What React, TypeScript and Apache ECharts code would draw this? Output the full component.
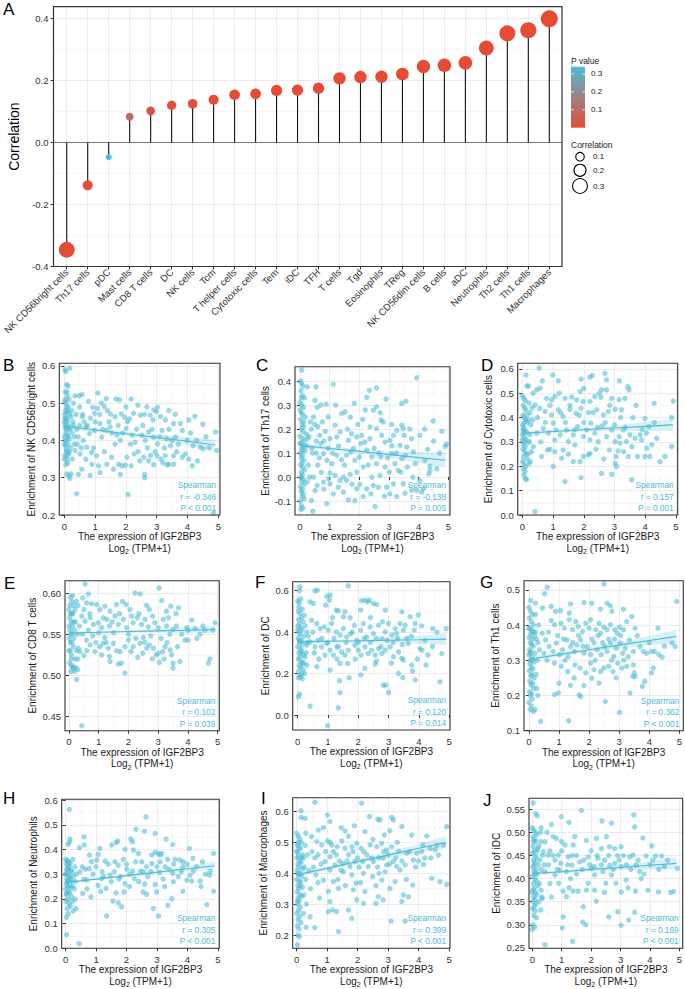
import React, { useEffect, useRef } from 'react';
import * as echarts from 'echarts';

// ---------- Panel A data ----------
const cells = ['NK CD56bright cells', 'Th17 cells', 'pDC', 'Mast cells', 'CD8 T cells', 'DC', 'NK cells', 'Tcm', 'T helper cells', 'Cytotoxic cells', 'Tem', 'iDC', 'TFH', 'T cells', 'Tgd', 'Eosinophils', 'TReg', 'NK CD56dim cells', 'B cells', 'aDC', 'Neutrophils', 'Th2 cells', 'Th1 cells', 'Macrophages'];
const correlation = [-0.346, -0.138, -0.047, 0.083, 0.102, 0.12, 0.125, 0.138, 0.154, 0.157, 0.168, 0.169, 0.175, 0.207, 0.211, 0.212, 0.221, 0.245, 0.249, 0.257, 0.305, 0.352, 0.362, 0.399];
const pValue = [0.0005, 0.005, 0.34, 0.09, 0.039, 0.014, 0.011, 0.005, 0.002, 0.001, 0.0007, 0.0006, 0.0004, 0.0001, 0.0001, 0.0001, 0.0001, 0.0001, 0.0001, 0.0001, 0.0001, 0.0001, 0.0001, 0.0001];
const corrTicks = [-0.4, -0.2, 0, 0.2, 0.4];
const pLegendTicks = [0.1, 0.2, 0.3];
const sizeLegendTicks = [0.1, 0.2, 0.3];

// ---------- Scatter panels ----------
const exprTicks = [0, 1, 2, 3, 4, 5];
const fitX = [0, 1, 2, 3, 4, 4.9];

const ptsB = [[0.02,0.59],[0.05,0.585],[0.18,0.594],[0.08,0.55],[0.12,0.545],[0.03,0.53],[0.1,0.52],[0.15,0.51],[0.01,0.505],[0.06,0.5],[0.13,0.49],[0.04,0.48],[0.09,0.475],[0.17,0.47],[0.02,0.46],[0.11,0.455],[0.07,0.45],[0.14,0.44],[0.03,0.435],[0.19,0.43],[0.05,0.42],[0.1,0.415],[0,0.41],[0.16,0.405],[0.08,0.4],[0.12,0.39],[0.04,0.385],[0.2,0.38],[0.06,0.375],[0.14,0.365],[0.02,0.36],[0.09,0.35],[0.11,0.34],[0.05,0.335],[0.08,0.31],[0.15,0.305],[0.18,0.298],[0.22,0.31],[0.25,0.42],[0.28,0.45],[0.3,0.5],[0.26,0.35],[0.32,0.39],[0.24,0.48],[0.35,0.52],[0.01,0.47],[0.03,0.44],[0.07,0.49],[0.13,0.43],[0.16,0.37],[0,0.39],[0.1,0.36],[0.04,0.51],[0.09,0.53],[0,0.45],[0.06,0.43],[0.12,0.41],[0.02,0.4],[0.07,0.37],[0,0.35],[0.05,0.46],[0.11,0.48],
[0.48,0.52],[0.58,0.523],[1.09,0.527],[1.36,0.512],[1.68,0.511],[1.79,0.509],[2.17,0.511],[2.39,0.495],[2.68,0.49],[3.03,0.489],[2.91,0.482],[3.39,0.48],[2.99,0.477],[0.78,0.505],[0.92,0.489],[0.98,0.473],[1.08,0.486],[1.3,0.491],[1.4,0.48],[1.5,0.471],[1.65,0.464],[1.85,0.471],[1.96,0.462],[2.12,0.458],[2.25,0.473],[2.47,0.468],[2.79,0.468],[2.88,0.455],[3.12,0.464],[3.28,0.455],[3.55,0.445],[3.77,0.445],[4.04,0.455],[4.24,0.464],[4.5,0.443],[4.91,0.423],
[0.22,0.464],[0.58,0.464],[0.7,0.436],[0.82,0.418],[0.98,0.427],[1.16,0.445],[1.22,0.409],[1.38,0.427],[1.49,0.436],[1.71,0.414],[1.82,0.4],[2.01,0.432],[2.2,0.414],[2.3,0.395],[2.52,0.414],[2.63,0.4],[2.74,0.423],[2.9,0.409],[3.03,0.391],[3.17,0.427],[3.32,0.405],[3.45,0.386],[3.61,0.409],[3.83,0.427],[3.99,0.4],[4.18,0.386],[4.42,0.382],[4.7,0.38],[4.95,0.373],
[0.35,0.373],[0.51,0.364],[0.73,0.382],[0.89,0.368],[1.05,0.359],[1.11,0.332],[1.16,0.314],[1.38,0.336],[1.54,0.355],[1.6,0.323],[1.76,0.336],[1.82,0.309],[1.87,0.332],[1.98,0.334],[2.03,0.355],[2.17,0.332],[2.27,0.364],[2.45,0.345],[2.58,0.355],[2.61,0.309],[2.61,0.3],[2.74,0.345],[2.9,0.335],[3.01,0.359],[3.14,0.35],[3.28,0.359],[3.34,0.335],[3.39,0.336],[3.55,0.359],[3.55,0.336],[3.83,0.355],[3.93,0.364],[4.04,0.35],[4.15,0.332],[4.32,0.345],[4.51,0.377],[0.84,0.306],[0.57,0.323],[0.46,0.309],[0.9,0.336],
[0.4,0.257],[2.07,0.255],[4.84,0.205],[0.3,0.44],[0.4,0.43],[0.45,0.41],[0.5,0.44],[0.62,0.4],[0.38,0.47],[0.55,0.38],[0.65,0.45],[0.42,0.39],[0.33,0.41],
[0.6,0.47],[0.75,0.44],[0.85,0.46],[1,0.45],[1.15,0.47],[1.25,0.43],[1.45,0.45],[1.55,0.42],[1.75,0.44],[1.9,0.42],[2.05,0.45],[2.15,0.39],[2.35,0.43],[2.55,0.44],[2.7,0.38],[2.85,0.43],[2.95,0.37],[3.1,0.41],[3.25,0.38],[3.4,0.43],[3.5,0.4],[3.7,0.39],[0.7,0.35],[0.95,0.38],[1.3,0.37],[1.65,0.39],[2.4,0.37],[2.8,0.36],[3.2,0.34],[3.65,0.37],[4.1,0.42],[4.3,0.4],[4.6,0.41],[1.2,0.5],[2,0.49],[2.6,0.47],[3.6,0.47],[0.5,0.49]];
const fitB = [0.438, 0.428, 0.418, 0.408, 0.398, 0.388];
const lowB = [0.431, 0.423, 0.413, 0.401, 0.387, 0.374];
const upB = [0.445, 0.433, 0.423, 0.415, 0.409, 0.402];
const yTicksB = [0.2, 0.3, 0.4, 0.5, 0.6];

const ptsC = [[0.02,0.4],[0.05,0.39],[0.1,0.38],[0.03,0.36],[0.08,0.34],[0.15,0.33],[0.01,0.31],[0.06,0.3],[0.12,0.29],[0.04,0.27],[0.09,0.26],[0.18,0.25],[0.02,0.24],[0.07,0.22],[0.13,0.21],[0.05,0.2],[0.1,0.19],[0.2,0.18],[0,0.17],[0.08,0.16],[0.14,0.15],[0.03,0.14],[0.11,0.13],[0.06,0.12],[0.17,0.11],[0.01,0.1],[0.09,0.09],[0.04,0.08],[0.13,0.07],[0.07,0.06],[0.02,0.05],[0.1,0.04],[0.16,0.03],[0.05,0.02],[0.08,0.01],[0.03,0],[0.12,-0.01],[0.06,-0.02],[0.15,-0.03],[0.01,-0.04],[0.09,-0.05],[0.04,-0.06],[0.11,-0.07],[0.07,-0.08],[0.14,-0.09],[0.02,-0.1],[0.05,-0.12],[0.1,-0.13],[0.03,-0.135],[0.22,0.13],[0.25,0.16],[0.3,0.17],[0.35,0.23],[0.28,0.05],[0.32,0],[0.24,-0.02],[0.38,0.2],[0.4,0.12],[0.45,0.25],[0.42,0.1],[0.5,0.22],[0.06,0.446],[0.25,0.376],[0.54,0.376],[0.58,0.29],[0.67,0.174],[0,0.28],[0.04,0.33],[0.12,0.23],[0,0.14],[0.08,0.11],[0.05,0],
[3.93,0.414],[1.12,0.387],[2.34,0.362],[2.58,0.372],[2.9,0.325],[2.25,0.332],[3.43,0.307],[3.57,0.316],[1.83,0.307],[1.52,0.272],[1.4,0.265],[0.88,0.304],[2.47,0.279],[2.7,0.268],[2.58,0.293],[2.11,0.24],[2.36,0.209],[2.73,0.237],[3.09,0.219],[3.43,0.216],[3.48,0.202],[4.49,0.234],[4.78,0.191],[4.04,0.174],[3.76,0.16],[3.51,0.174],[3.15,0.174],[3.37,0.132],[4.94,0.137],[4.89,0.128],[4.3,0.116],[4.38,0.028],[4.34,0.014],[4.04,-0.014],[3.93,-0.056],[4.1,-0.063],[4.16,-0.049],[3.76,-0.056],[3.54,-0.067],[3.48,-0.028],[3.15,-0.028],[2.92,-0.042],[3.03,-0.07],[3.26,-0.081],[2.64,-0.042],[2.47,-0.035],[2.39,-0.07],[2.13,-0.081],[2.25,-0.049],[2.02,-0.031],[1.91,-0.049],[1.85,-0.098],[1.63,-0.095],[2.53,-0.123],[1.46,-0.063],[1.29,-0.042],[1.12,-0.07],[0.9,-0.111],[1.01,-0.028],[0.79,-0.021],[0.58,-0.035],[0.51,-0.056],[0.39,-0.098],[0.43,-0.142],
[1.01,0.16],[1.24,0.167],[1.35,0.188],[1.18,0.216],[1.63,0.153],[1.74,0.181],[1.91,0.167],[2.08,0.174],[2.19,0.146],[2.36,0.16],[2.58,0.202],[2.75,0.174],[2.87,0.146],[3.03,0.153],[3.26,0.195],[3.6,0.125],[3.82,0.105],[4.21,0.07],[3.88,0.056],[4.38,0.045],[4.61,0.035],[0.79,0.098],[0.9,0.07],[1.07,0.056],[1.24,0.091],[1.4,0.072],[1.57,0.091],[1.71,0.105],[1.85,0.07],[2,0.084],[2.13,0.042],[2.25,0.112],[2.42,0.084],[2.58,0.056],[2.72,0.084],[2.87,0.042],[3.01,0.021],[3.09,0.098],[3.2,0.056],[3.31,0.028],[3.43,0.077],[3.62,0.042],[1.01,0.017],[1.18,0.007],[1.46,0],[1.69,0.011],[1.91,0.021],[1.57,-0.014],[1.35,-0.014],[2.7,0.007],[2.42,0],[0.96,-0.007],[0.6,0.21],[0.75,0.23],[0.85,0.19],[0.7,0.14],[0.95,0.25],[0.55,0.15],[0.65,0.08],[0.72,0.02],
[0.55,0.1],[0.6,0.05],[0.8,0.15],[0.95,0.12],[1.1,0.1],[1.3,0.13],[1.5,0.05],[1.6,0.2],[1.8,0.12],[1.95,0.22],[2.05,0.14],[2.3,0.05],[2.5,0.12],[2.65,0.1],[2.8,0.23],[2.95,0.08],[3.1,0.13],[3.25,0.1],[3.4,0.02],[3.55,0.09],[3.7,0.2],[1.2,0.3],[1.7,0.25],[2.2,0.28],[0.7,0.3],[0.5,0.32],[0.45,0],[0.8,-0.05],[1.75,-0.03],[2.85,-0.08],[3.8,0],[4.5,0.15],[4.2,0.2],[4.7,0.1]];
const fitC = [0.132, 0.119, 0.107, 0.094, 0.081, 0.07];
const lowC = [0.121, 0.111, 0.098, 0.081, 0.059, 0.04];
const upC = [0.143, 0.127, 0.116, 0.107, 0.103, 0.1];
const yTicksC = [-0.1, 0, 0.1, 0.2, 0.3, 0.4];

const ptsD = [[0,0.49],[0.05,0.48],[0.1,0.47],[0.15,0.53],[0.2,0.53],[0.03,0.45],[0.08,0.44],[0.12,0.43],[0.02,0.41],[0.06,0.4],[0.11,0.39],[0.17,0.38],[0.01,0.37],[0.04,0.36],[0.09,0.35],[0.14,0.34],[0,0.33],[0.07,0.32],[0.12,0.31],[0.03,0.3],[0.18,0.3],[0.05,0.29],[0.1,0.28],[0.02,0.27],[0.08,0.26],[0.13,0.25],[0.04,0.24],[0.16,0.23],[0.01,0.22],[0.06,0.21],[0.11,0.2],[0.03,0.19],[0.09,0.18],[0.05,0.165],[0.1,0.15],[0.14,0.145],[0.22,0.46],[0.25,0.42],[0.28,0.37],[0.23,0.3],[0.3,0.26],[0.26,0.22],[0.2,0.39],[0.24,0.33],[0.19,0.25],[0.32,0.44],[0.35,0.5],[0.22,0.21],[0.12,0.575],[0.02,0.35],[0.07,0.38],[0,0.31],[0.15,0.41],[0.05,0.34],
[0.41,0.014],[0.55,0.603],[0.99,0.575],[0.65,0.551],[1.17,0.551],[2.2,0.566],[2.28,0.573],[2.69,0.582],[2.74,0.555],[3.16,0.551],[3.43,0.527],[3.47,0.514],[1.91,0.558],[1.88,0.507],[0.58,0.521],[0.47,0.514],[0.79,0.479],[0.95,0.473],[1.06,0.486],[1.39,0.479],[1.61,0.484],[1.77,0.473],[1.98,0.466],[2.2,0.466],[2.36,0.486],[2.56,0.484],[2.58,0.514],[2.74,0.514],[2.91,0.479],[3.15,0.473],[3.34,0.479],[4.91,0.468],[4.29,0.459],[3.99,0.397],[4.86,0.4],[3.23,0.432],[3.02,0.434],[2.8,0.425],[2.64,0.411],[2.42,0.432],[2.15,0.421],[1.91,0.438],[1.74,0.418],[1.55,0.434],[1.33,0.404],[1.17,0.432],[0.95,0.411],[0.74,0.425],[0.57,0.438],[0.41,0.452],[0.34,0.39],[0.36,0.281],[0.47,0.336],[0.68,0.356],[0.85,0.336],[1.01,0.377],[1.06,0.308],[1.23,0.329],[1.44,0.349],[1.5,0.301],[1.66,0.329],[1.71,0.288],[1.8,0.363],[1.99,0.322],[2.1,0.349],[2.2,0.308],[2.23,0.377],[2.36,0.336],[2.47,0.301],[2.6,0.366],[2.74,0.322],[2.83,0.267],[2.91,0.349],[3.02,0.301],[3.15,0.322],[3.18,0.295],[3.29,0.349],[3.39,0.301],[3.5,0.329],[3.56,0.281],[3.67,0.315],[3.83,0.329],[3.88,0.308],[4.04,0.336],[4.12,0.363],[4.21,0.288],[4.37,0.315],[4.48,0.219],[3.99,0.24],[4.05,0.274],[3.75,0.24],[3.45,0.24],[3.12,0.263],[3.05,0.24],[3.02,0.212],[3.07,0.199],[2.91,0.167],[2.58,0.171],[2.2,0.253],[2.15,0.247],[1.99,0.24],[1.88,0.219],[1.66,0.219],[1.28,0.233],[1.33,0.267],[1.06,0.26],[1.01,0.199],[0.82,0.267],[0.63,0.24],[1.39,0.137],[1.91,0.153],[3.56,0.144],[4.86,0.281],[4.64,0.24],[4.15,0.24],
[0.5,0.4],[0.6,0.3],[0.75,0.38],[0.9,0.45],[1.1,0.35],[1.25,0.42],[1.4,0.38],[1.55,0.45],[1.7,0.35],[1.85,0.41],[2,0.38],[2.3,0.42],[2.45,0.36],[2.7,0.38],[2.85,0.45],[3,0.37],[3.2,0.4],[3.35,0.36],[3.6,0.4],[3.7,0.45],[3.9,0.35],[4.3,0.38],[0.9,0.27],[1.5,0.25],[2.4,0.27],[2.65,0.23],[3.3,0.26],[1.2,0.5],[2,0.52],[2.5,0.5]];
const fitD = [0.336, 0.343, 0.35, 0.357, 0.364, 0.37];
const lowD = [0.328, 0.337, 0.343, 0.347, 0.346, 0.346];
const upD = [0.344, 0.349, 0.357, 0.367, 0.382, 0.394];
const yTicksD = [0, 0.1, 0.2, 0.3, 0.4, 0.5, 0.6];

const ptsE = [[0,0.58],[0.05,0.575],[0.1,0.59],[0.15,0.585],[0.02,0.57],[0.08,0.565],[0.12,0.56],[0.03,0.555],[0.18,0.555],[0.06,0.55],[0.01,0.545],[0.1,0.54],[0.14,0.535],[0.04,0.53],[0.08,0.525],[0.2,0.52],[0.02,0.515],[0.12,0.51],[0.06,0.505],[0.16,0.545],[0,0.56],[0.09,0.575],[0.2,0.58],[0.25,0.59],[0.3,0.585],[0.22,0.565],[0.28,0.55],[0.25,0.53],[0.05,0.595],[0.12,0.597],[0.35,0.56],[0.22,0.51],[0.18,0.505],[0.3,0.52],[0.04,0.54],[0.11,0.55],[0,0.53],[0.07,0.52],[0.15,0.565],[0.03,0.585],[0.09,0.512],[0.13,0.575],
[0.54,0.611],[0.65,0.599],[0.43,0.439],[0.26,0.495],[0.15,0.509],[0.29,0.507],[0.46,0.594],[0.59,0.588],[0.76,0.587],[0.93,0.586],[1.04,0.58],[1.21,0.584],[1.38,0.578],[1.6,0.586],[1.8,0.59],[1.92,0.586],[2.22,0.6],[2.39,0.599],[2.61,0.585],[3.03,0.606],[3.12,0.591],[3.28,0.578],[3.42,0.584],[3.68,0.582],
[0.43,0.572],[0.54,0.566],[0.71,0.57],[0.82,0.562],[0.99,0.564],[1.1,0.558],[1.27,0.568],[1.36,0.56],[1.55,0.572],[1.66,0.562],[1.83,0.568],[1.94,0.558],[2.11,0.572],[2.16,0.564],[2.3,0.57],[2.44,0.562],[2.56,0.568],[2.67,0.559],[2.81,0.572],[2.89,0.564],[3,0.558],[3.17,0.568],[3.28,0.56],[3.39,0.55],[3.5,0.556],[3.61,0.56],[3.79,0.55],[3.96,0.558],[4.13,0.567],[4.24,0.557],[4.41,0.55],[4.57,0.555],[4.91,0.564],[4.85,0.555],[3.9,0.543],[4.01,0.543],
[0.31,0.533],[0.59,0.543],[0.71,0.537],[0.87,0.529],[1.04,0.535],[1.15,0.539],[1.32,0.533],[1.36,0.523],[1.38,0.517],[1.49,0.539],[1.72,0.529],[1.77,0.515],[1.88,0.535],[2,0.543],[2.09,0.529],[2.16,0.535],[2.31,0.522],[2.39,0.539],[2.48,0.527],[2.61,0.533],[2.7,0.537],[2.84,0.533],[2.93,0.525],[3,0.527],[3.04,0.516],[3.15,0.529],[3.23,0.535],[3.4,0.531],[3.45,0.525],[3.5,0.515],[3.5,0.509],[3.73,0.517],[1.88,0.503],[1.66,0.514],[0.5,0.524],[0.37,0.529],[4.69,0.515],[4.74,0.52],
[0.45,0.55],[0.8,0.548],[1.2,0.546],[1.5,0.552],[2,0.55],[2.5,0.546],[2.75,0.548],[3.1,0.545],[0.65,0.555],[1,0.552],
[0.5,0.58],[0.7,0.575],[1.15,0.57],[1.45,0.565],[1.7,0.575],[2.05,0.58],[2.35,0.575],[2.7,0.58],[3.35,0.57],[3.6,0.575],[0.9,0.54],[1.25,0.54],[1.6,0.53],[2.25,0.545],[2.55,0.54],[3.3,0.54],[3.65,0.535],[4,0.555],[4.3,0.545],[0.6,0.53],[1.1,0.525],[2.8,0.52],[3.2,0.52],[4.5,0.56]];
const fitE = [0.5516, 0.5524, 0.5533, 0.5541, 0.5549, 0.5557];
const lowE = [0.5498, 0.551, 0.5517, 0.5518, 0.5514, 0.5512];
const upE = [0.5534, 0.5538, 0.5549, 0.5564, 0.5584, 0.5602];
const yTicksE = [0.45, 0.5, 0.55, 0.6];

const ptsF = [[0,0.55],[0.05,0.54],[0.1,0.56],[0.15,0.51],[0.02,0.5],[0.08,0.49],[0.12,0.47],[0.03,0.46],[0.18,0.45],[0.06,0.44],[0.01,0.43],[0.1,0.42],[0.14,0.41],[0.04,0.4],[0.08,0.39],[0.2,0.38],[0.02,0.37],[0.12,0.36],[0.06,0.35],[0.16,0.34],[0,0.33],[0.09,0.32],[0.13,0.31],[0.04,0.3],[0.19,0.29],[0.07,0.28],[0.02,0.27],[0.11,0.26],[0.15,0.25],[0.05,0.24],[0.09,0.23],[0.18,0.22],[0.03,0.21],[0.13,0.2],[0.07,0.19],[0.1,0.185],[0.02,0.18],[0.15,0.175],[0.22,0.2],[0.25,0.43],[0.28,0.3],[0.3,0.4],[0.24,0.28],[0.32,0.35],[0.35,0.38],[0.22,0.48],[0.06,0.6],[0.2,0.25],[0.02,0.088],[0.06,0.101],[0.08,0.618],[0.05,0.36],[0,0.41],[0.11,0.3],[0.04,0.52],
[0.99,-0.051],[0.41,0.043],[1.34,0.035],[1.4,0.108],[3,0.109],[2.83,0.144],[1.67,0.623],[0.57,0.599],[0.65,0.602],[0.96,0.573],[1.07,0.578],[0.52,0.538],[0.41,0.546],[0.93,0.53],[1.05,0.554],[1.27,0.506],[1.34,0.502],[1.56,0.498],[1.51,0.474],[1.73,0.469],[2.08,0.506],[2.22,0.554],[2.11,0.551],[2.37,0.554],[2.31,0.546],[2.5,0.538],[2.61,0.533],[2.89,0.506],[3.44,0.498],[3.71,0.474],[3.88,0.441],[3.98,0.482],[4.1,0.43],[4.46,0.417],[4.9,0.417],
[0.46,0.457],[0.63,0.441],[0.74,0.417],[0.88,0.425],[1.01,0.409],[1.12,0.441],[1.27,0.401],[1.4,0.385],[1.51,0.417],[1.62,0.377],[1.75,0.393],[1.87,0.433],[1.95,0.361],[2.08,0.409],[2.17,0.441],[2.28,0.377],[2.39,0.425],[2.5,0.393],[2.67,0.433],[2.78,0.369],[2.89,0.401],[3,0.441],[3.11,0.385],[3.22,0.417],[3.27,0.393],[3.38,0.441],[3.49,0.409],[3.55,0.433],[3.6,0.369],[0.3,0.337],[0.41,0.353],[0.57,0.329],[0.68,0.361],[0.79,0.329],[0.9,0.289],[0.96,0.345],[1.07,0.313],[1.18,0.289],[1.29,0.329],[1.45,0.305],[1.56,0.289],[1.67,0.313],[1.89,0.337],[2,0.313],[2.09,0.289],[2.22,0.329],[2.33,0.297],[2.44,0.313],[2.56,0.289],[2.67,0.321],[2.78,0.297],[2.89,0.313],[3.05,0.329],[3.16,0.281],[3.33,0.305],[3.44,0.273],[3.49,0.265],[4.04,0.321],[4.1,0.313],[4.76,0.297],
[0.3,0.241],[0.63,0.233],[1.07,0.217],[1.4,0.249],[1.65,0.249],[2.09,0.193],[2.22,0.225],[2.56,0.246],[2.91,0.144],[3.33,0.201],[3.47,0.18],[3.77,0.241],[3.79,0.212],[3.88,0.169],[4.24,0.241],[4.7,0.16],[1.7,0.18],[1.38,0.165],[3.75,0.38],[4.2,0.36],[4.45,0.33],[3.65,0.345],[4.3,0.29],[3.95,0.27],[4.6,0.4],[3.85,0.41],
[0.5,0.4],[0.55,0.3],[0.8,0.37],[1,0.35],[1.2,0.37],[1.35,0.33],[1.6,0.35],[1.8,0.4],[2,0.35],[2.2,0.37],[2.4,0.35],[2.6,0.37],[2.75,0.33],[2.95,0.36],[3.15,0.35],[3.3,0.37],[3.45,0.34],[0.7,0.27],[1.3,0.27],[1.9,0.27],[2.6,0.26],[3.1,0.25],[1.15,0.47],[2.4,0.47],[2.8,0.45]];
const fitF = [0.353, 0.356, 0.358, 0.361, 0.363, 0.366];
const lowF = [0.343, 0.349, 0.35, 0.349, 0.343, 0.338];
const upF = [0.363, 0.363, 0.366, 0.373, 0.383, 0.394];
const yTicksF = [0, 0.2, 0.4, 0.6];

const ptsG = [[0,0.45],[0.05,0.44],[0.12,0.43],[0.02,0.42],[0.08,0.41],[0.15,0.4],[0.03,0.39],[0.1,0.385],[0.06,0.375],[0.18,0.37],[0.01,0.365],[0.12,0.36],[0.04,0.35],[0.09,0.345],[0.14,0.34],[0.02,0.33],[0.07,0.325],[0.2,0.32],[0,0.315],[0.11,0.31],[0.05,0.3],[0.16,0.295],[0.03,0.29],[0.08,0.28],[0.13,0.275],[0.01,0.27],[0.1,0.26],[0.06,0.255],[0.18,0.25],[0.03,0.24],[0.12,0.235],[0.07,0.23],[0.15,0.22],[0.02,0.21],[0.09,0.205],[0.05,0.2],[0.11,0.19],[0,0.18],[0.08,0.17],[0.04,0.16],[0.14,0.155],[0.2,0.16],[0.22,0.38],[0.25,0.36],[0.3,0.35],[0.28,0.3],[0.24,0.26],[0.32,0.4],[0.35,0.33],[0.26,0.22],[0.3,0.2],[0.22,0.43],[0.22,0.462],[0.06,0.47],[0,0.39],[0.1,0.3],[0.04,0.32],[0.14,0.38],
[0.39,0.126],[1.32,0.128],[3.01,0.152],[0.52,0.489],[0.61,0.507],[2.49,0.517],[4.91,0.467],[0.45,0.448],[0.74,0.453],[0.88,0.439],[1.05,0.441],[1.34,0.434],[1.38,0.46],[1.83,0.464],[2.09,0.462],[2.38,0.445],[2.6,0.462],[2.71,0.455],[2.76,0.439],[3.14,0.445],[3.42,0.424],[0.74,0.413],[0.85,0.401],[1.07,0.405],[1.18,0.391],[1.34,0.415],[1.45,0.387],[1.56,0.41],[1.64,0.396],[1.78,0.382],[1.89,0.405],[2,0.391],[2.05,0.415],[2.22,0.387],[2.33,0.405],[2.38,0.377],[2.49,0.394],[2.6,0.387],[2.71,0.401],[2.85,0.387],[2.93,0.377],[3.01,0.394],[3.14,0.387],[3.25,0.41],[3.53,0.391],[4.29,0.391],[0.44,0.377],[0.55,0.358],[0.67,0.339],[0.8,0.325],[0.91,0.349],[1.02,0.316],[1.12,0.33],[1.26,0.358],[1.38,0.339],[1.51,0.325],[1.59,0.344],[1.72,0.358],[1.83,0.32],[1.94,0.339],[2.05,0.316],[2.16,0.349],[2.27,0.33],[2.4,0.316],[2.52,0.339],[2.6,0.325],[2.71,0.349],[2.82,0.311],[2.9,0.334],[3.03,0.349],[3.12,0.32],[3.2,0.334],[3.34,0.358],[3.47,0.325],[3.69,0.339],[3.8,0.325],[3.91,0.32],[4.07,0.325],[4.18,0.325],[4.32,0.316],[4.43,0.309],[4.76,0.349],[4.86,0.339],[0.85,0.292],[1.07,0.283],[1.29,0.268],[1.53,0.287],[1.7,0.278],[1.89,0.264],[2.05,0.292],[2.16,0.273],[2.38,0.268],[2.49,0.278],[2.65,0.283],[2.79,0.268],[2.95,0.292],[3.09,0.278],[3.25,0.283],[3.47,0.287],[3.5,0.264],[3.45,0.254],[3.53,0.254],[4.07,0.264],[4.13,0.278],[3.85,0.24],[1,0.235],[1.38,0.229],[0.85,0.202],[0.98,0.207],[1.67,0.202],[1.72,0.197],[1.83,0.228],[2.09,0.249],[2.33,0.235],[2.54,0.183],[3.77,0.226],[3.36,0.207],
[0.5,0.32],[0.65,0.38],[0.95,0.37],[1.15,0.36],[1.3,0.31],[1.45,0.35],[1.65,0.37],[1.8,0.34],[2.1,0.36],[2.3,0.37],[2.45,0.35],[2.65,0.36],[2.85,0.36],[3.05,0.37],[3.3,0.31],[3.6,0.37],[0.6,0.3],[1.2,0.3],[2.2,0.3],[2.75,0.3],[3.15,0.3],[4,0.35],[4.5,0.34],[1.5,0.25],[2.9,0.25]];
const fitG = [0.303, 0.316, 0.33, 0.343, 0.356, 0.368];
const lowG = [0.297, 0.311, 0.324, 0.335, 0.343, 0.349];
const upG = [0.309, 0.321, 0.336, 0.351, 0.369, 0.387];
const yTicksG = [0.1, 0.2, 0.3, 0.4, 0.5];

const ptsH = [[0,0.36],[0.05,0.355],[0.1,0.35],[0.15,0.345],[0.02,0.34],[0.08,0.335],[0.12,0.33],[0.03,0.32],[0.18,0.315],[0.06,0.31],[0.01,0.3],[0.1,0.295],[0.14,0.29],[0.04,0.28],[0.08,0.275],[0.2,0.27],[0.02,0.26],[0.12,0.255],[0.06,0.25],[0.16,0.245],[0,0.24],[0.09,0.23],[0.13,0.225],[0.04,0.22],[0.19,0.21],[0.07,0.2],[0.02,0.19],[0.11,0.18],[0.15,0.17],[0.05,0.16],[0.09,0.14],[0.03,0.125],[0.12,0.43],[0.08,0.42],[0.2,0.31],[0.25,0.29],[0.22,0.25],[0.3,0.33],[0.28,0.24],[0.24,0.36],[0.32,0.27],[0.35,0.3],[0.22,0.19],[0.12,0.562],[0.03,0.055],[0.14,0.442],[0,0.3],[0.05,0.27],[0.1,0.32],[0.16,0.28],[0.07,0.35],[0.02,0.22],
[0.44,0.019],[2.64,0.532],[2.31,0.482],[2.59,0.474],[2.94,0.465],[3.3,0.442],[3.52,0.42],[4.07,0.404],[4.86,0.384],[0.45,0.407],[0.6,0.451],[0.61,0.418],[1.13,0.404],[1.51,0.418],[1.66,0.428],[1.71,0.434],[1.95,0.401],[2.14,0.442],[2.2,0.431],[2.23,0.397],[2.39,0.384],[2.83,0.377],[2.94,0.388],[3.05,0.384],[3.1,0.377],[3.16,0.384],[3.76,0.357],[3.87,0.35],[4.18,0.364],[4.75,0.312],[4.86,0.231],[4.64,0.177],[0.78,0.377],[1.02,0.357],[1.07,0.38],[1.3,0.353],[1.62,0.35],[1.73,0.336],[2.01,0.32],[2.2,0.312],[2.45,0.312],[2.66,0.33],[2.83,0.343],[3,0.33],[3.08,0.307],[3.27,0.33],[3.52,0.303],[3.85,0.33],[4.09,0.296],[4.2,0.312],[4.73,0.296],[3.98,0.276],[4.14,0.272],[4.42,0.272],[3.85,0.231],[3.54,0.269],[3.49,0.201],[3.36,0.174],[3.05,0.131],[2.88,0.161],[2.55,0.228],[2.66,0.218],[2.99,0.228],[2.94,0.258],[2.26,0.282],[1.95,0.262],[1.92,0.228],[1.66,0.224],[1.55,0.191],[1.84,0.168],[1.73,0.184],[1.35,0.131],[1.07,0.255],[1.33,0.242],[0.83,0.208],[0.56,0.222],[0.34,0.161],[0.25,0.151],[0.31,0.199],[0.69,0.276],[1.18,0.282],[1.46,0.296],[0.78,0.323],[0.47,0.309],
[0.9,0.3],[1.2,0.31],[1.5,0.27],[1.8,0.29],[2.1,0.3],[2.4,0.27],[2.7,0.29],[3.2,0.28],[3.4,0.32],[3.7,0.29],[0.6,0.28],[0.55,0.33],[2.5,0.35],[1.9,0.36],[3.6,0.36],[4.3,0.33],[4.5,0.35],
[0.65,0.32],[0.85,0.35],[1,0.33],[1.25,0.29],[1.4,0.34],[1.6,0.31],[1.75,0.28],[2,0.34],[2.3,0.35],[2.55,0.31],[2.8,0.31],[3.1,0.35],[3.35,0.36],[3.55,0.34],[3.8,0.31],[4,0.34],[0.7,0.24],[1.15,0.23],[2.1,0.25],[2.6,0.26],[3.25,0.25],[4.6,0.3],[4.45,0.25]];
const fitH = [0.266, 0.28, 0.294, 0.308, 0.322, 0.334];
const lowH = [0.261, 0.276, 0.289, 0.301, 0.311, 0.319];
const upH = [0.271, 0.284, 0.299, 0.315, 0.333, 0.349];
const yTicksH = [0, 0.1, 0.2, 0.3, 0.4, 0.5, 0.6];

const ptsI = [[0,0.53],[0.05,0.52],[0.1,0.51],[0.15,0.5],[0.02,0.49],[0.08,0.485],[0.12,0.48],[0.03,0.47],[0.18,0.46],[0.06,0.455],[0.01,0.45],[0.1,0.44],[0.14,0.435],[0.04,0.43],[0.08,0.42],[0.2,0.415],[0.02,0.41],[0.12,0.4],[0.06,0.395],[0.16,0.39],[0,0.38],[0.09,0.375],[0.13,0.37],[0.04,0.36],[0.19,0.355],[0.07,0.35],[0.02,0.34],[0.11,0.33],[0.15,0.325],[0.05,0.32],[0.09,0.31],[0.03,0.3],[0.12,0.29],[0.07,0.28],[0.01,0.27],[0.1,0.26],[0.05,0.25],[0.14,0.24],[0.02,0.23],[0.08,0.22],[0.04,0.2],[0.22,0.45],[0.25,0.42],[0.3,0.38],[0.28,0.49],[0.24,0.33],[0.32,0.3],[0.35,0.46],[0.22,0.27],[0.3,0.53],[0.4,0.41],[0.03,0.168],[0.09,0.195],[0.14,0.603],[0.14,0.581],[0.27,0.578],[0,0.47],[0.06,0.5],[0.11,0.36],[0.04,0.4],[0.16,0.45],[0.02,0.31],
[1.37,0.211],[0.31,0.225],[0.44,0.259],[0.6,0.224],[1.81,0.254],[1.31,0.276],[1.7,0.281],[1.04,0.276],[1.18,0.281],[1.09,0.308],[1.97,0.314],[2.19,0.303],[2.6,0.303],[2.68,0.324],[2.84,0.314],[3.1,0.245],[3.56,0.245],[3.45,0.308],[3.5,0.33],[3.81,0.362],[4.43,0.384],[4.7,0.373],[4.92,0.364],[0.6,0.63],[1.01,0.589],[1.09,0.568],[1.46,0.548],[1.89,0.554],[2.13,0.627],[2.39,0.584],[2.66,0.575],[2.74,0.573],[3.12,0.581],[3.17,0.573],[3.45,0.551],[3.77,0.524],[4.27,0.521],[4.92,0.551],[3.06,0.538],[2.87,0.524],[2.24,0.535],[1.59,0.537],[0.88,0.548],[0.71,0.54],[0.49,0.519],[0.66,0.503],[0.82,0.492],[1.01,0.505],[1.15,0.492],[1.33,0.486],[1.48,0.505],[1.59,0.481],[1.81,0.486],[1.97,0.497],[2.11,0.481],[2.41,0.492],[2.63,0.486],[2.79,0.497],[2.95,0.476],[3.12,0.486],[3.34,0.472],[3.61,0.465],[3.94,0.465],[4.1,0.47],[4.14,0.492],[4.38,0.481],[4.54,0.476],[4.65,0.459],[4.81,0.492],[0.93,0.438],[1.09,0.454],[1.26,0.427],[1.51,0.432],[1.75,0.422],[1.91,0.438],[2.17,0.438],[2.35,0.422],[2.52,0.438],[2.84,0.449],[2.95,0.427],[3.17,0.438],[3.28,0.422],[3.56,0.427],[3.83,0.443],[4.16,0.429],[0.63,0.395],[0.88,0.378],[1.09,0.411],[1.2,0.373],[1.53,0.405],[1.81,0.395],[1.95,0.368],[2.19,0.4],[2.49,0.389],[2.79,0.378],[2.9,0.405],[3.23,0.373],[3.39,0.411],[1.04,0.341],[1.37,0.351],[1.86,0.346],[2.24,0.341],[3.06,0.351],[3.67,0.324],
[0.5,0.47],[0.7,0.46],[1.2,0.47],[1.7,0.46],[2.3,0.46],[2,0.45],[2.7,0.45],[3,0.46],[0.55,0.42],[1.4,0.44],[0.45,0.35],[0.75,0.32],[1.6,0.36],[2.6,0.36],[4,0.44],[4.4,0.45],
[0.6,0.45],[0.8,0.43],[0.95,0.47],[1.1,0.5],[1.3,0.46],[1.45,0.41],[1.65,0.44],[1.85,0.47],[2.05,0.42],[2.2,0.47],[2.45,0.45],[2.65,0.42],[2.85,0.47],[3.05,0.43],[3.25,0.45],[3.45,0.44],[3.7,0.47],[3.9,0.42],[4.2,0.45],[4.6,0.49],[0.7,0.37],[1.35,0.38],[2.1,0.37],[2.7,0.4],[3.6,0.38],[1.7,0.52],[2.5,0.51],[3.3,0.5]];
const fitI = [0.395, 0.416, 0.438, 0.459, 0.481, 0.5];
const lowI = [0.388, 0.41, 0.431, 0.45, 0.467, 0.48];
const upI = [0.402, 0.422, 0.445, 0.468, 0.495, 0.52];
const yTicksI = [0.2, 0.3, 0.4, 0.5, 0.6];

const ptsJ = [[0,0.51],[0.05,0.505],[0.1,0.5],[0.15,0.495],[0.02,0.49],[0.08,0.485],[0.12,0.48],[0.03,0.47],[0.18,0.465],[0.06,0.46],[0.01,0.455],[0.1,0.45],[0.14,0.445],[0.04,0.44],[0.08,0.435],[0.2,0.43],[0.02,0.425],[0.12,0.42],[0.06,0.415],[0.16,0.41],[0,0.405],[0.09,0.4],[0.13,0.395],[0.04,0.39],[0.19,0.385],[0.07,0.38],[0.02,0.375],[0.11,0.37],[0.15,0.365],[0.05,0.36],[0.09,0.355],[0.03,0.35],[0.12,0.345],[0.07,0.34],[0.01,0.335],[0.1,0.33],[0.05,0.32],[0.14,0.315],[0.02,0.3],[0.08,0.295],[0.22,0.47],[0.25,0.44],[0.3,0.42],[0.28,0.5],[0.24,0.39],[0.32,0.36],[0.35,0.45],[0.22,0.35],[0.3,0.51],[0.4,0.43],[0,0.29],[0.03,0.564],[0.12,0.541],[0.17,0.536],[0.06,0.43],[0.11,0.41],[0,0.37],[0.16,0.46],[0.04,0.48],
[0.99,0.534],[1.67,0.548],[1.25,0.522],[0.65,0.517],[2.37,0.525],[2.69,0.52],[3.45,0.538],[3.48,0.512],[3.76,0.488],[4.06,0.471],[4.19,0.449],[4.4,0.449],[4.49,0.426],[4.94,0.422],[4.29,0.371],[3.48,0.327],[3.28,0.31],[3.02,0.299],[2.91,0.328],[2.6,0.317],[2.18,0.351],[1.73,0.339],[1.71,0.306],[1.82,0.3],[1.05,0.317],[1.02,0.293],[1.37,0.264],[0.43,0.257],[0.29,0.332],[0.34,0.357],[0.29,0.48],[0.43,0.48],[0.71,0.491],[0.82,0.487],[0.99,0.48],[1.11,0.473],[1.39,0.473],[1.44,0.491],[1.84,0.483],[2.18,0.487],[2.35,0.465],[2.52,0.491],[2.63,0.469],[2.8,0.465],[3.02,0.469],[3.42,0.451],[0.37,0.458],[0.54,0.451],[0.77,0.44],[0.88,0.451],[0.97,0.433],[1.22,0.447],[1.35,0.429],[1.61,0.436],[1.9,0.447],[2.1,0.426],[2.23,0.444],[2.46,0.44],[2.63,0.429],[2.8,0.433],[3.02,0.426],[3.31,0.447],[3.53,0.429],[3.87,0.449],[0.43,0.415],[0.77,0.408],[0.94,0.418],[1.16,0.415],[2.01,0.422],[2.12,0.408],[2.4,0.415],[2.69,0.408],[3.19,0.397],[3.65,0.415],[3.7,0.4],[0.6,0.389],[1.05,0.373],[1.16,0.361],[1.39,0.373],[1.56,0.373],[1.84,0.375],[2.12,0.375],[3.02,0.371],[3.51,0.373],[3.93,0.375],
[0.5,0.5],[0.6,0.46],[1.5,0.45],[1.7,0.42],[2,0.46],[2.9,0.45],[3.2,0.43],[4,0.43],[4.6,0.44],[4.7,0.37],[4.8,0.372],[1.3,0.4],[2.5,0.39],[0.9,0.39],[0.3,0.375],
[0.55,0.43],[0.7,0.45],[0.85,0.42],[1,0.46],[1.2,0.43],[1.35,0.45],[1.5,0.41],[1.75,0.44],[1.95,0.43],[2.2,0.45],[2.35,0.43],[2.6,0.45],[2.75,0.42],[2.95,0.44],[3.1,0.45],[3.35,0.42],[3.6,0.44],[3.8,0.41],[4.1,0.44],[4.3,0.42],[0.65,0.36],[1.25,0.38],[1.9,0.39],[2.45,0.37],[2.85,0.39],[3.25,0.38]];
const fitJ = [0.411, 0.415, 0.42, 0.424, 0.429, 0.433];
const lowJ = [0.407, 0.412, 0.416, 0.418, 0.42, 0.42];
const upJ = [0.415, 0.418, 0.424, 0.43, 0.438, 0.446];
const yTicksJ = [0.25, 0.3, 0.35, 0.4, 0.45, 0.5, 0.55];

const cellTitles = ['NK CD56bright cells', 'Th17 cells', 'Cytotoxic cells', 'CD8 T cells', 'DC', 'Th1 cells', 'Neutrophils', 'Macrophages', 'iDC'];
const spearmanR = ['-0.346', '-0.138', '0.157', '0.102', '0.120', '0.362', '0.305', '0.399', '0.169'];
const spearmanP = ['P < 0.001', 'P = 0.005', 'P = 0.001', 'P = 0.039', 'P = 0.014', 'P < 0.001', 'P < 0.001', 'P < 0.001', 'P < 0.001'];

const FONT = "'Liberation Sans', Arial, Helvetica, sans-serif";
const BLUE = '#4DBBD5';
const RED = '#E64B35';

// layout (positions only)
const panelLayout = [
  { letter: 'B', box: [59.3, 363.3, 220, 515], xr: [-0.162, 5.055], yr: [0.2, 0.607], ys: 4, dec: 1, titleX: 31, lp: [3, 365] },
  { letter: 'C', box: [295, 366.7, 450, 515], xr: [-0.169, 5.055], yr: [-0.158, 0.46], ys: 6, dec: 1, titleX: 265, lp: [256, 365.5] },
  { letter: 'D', box: [517.7, 363.3, 677.7, 515], xr: [-0.15, 5.056], yr: [0, 0.623], ys: 6, dec: 1, titleX: 488, lp: [481, 365] },
  { letter: 'E', box: [65, 580.7, 219.3, 730.7], xr: [-0.135, 5.055], yr: [0.433, 0.615], ys: 4, dec: 2, titleX: 32, lp: [4, 583] },
  { letter: 'F', box: [292.7, 581.7, 450, 730], xr: [-0.165, 5.03], yr: [-0.072, 0.643], ys: 4, dec: 1, titleX: 265, lp: [255, 582] },
  { letter: 'G', box: [524, 580.7, 683.3, 730.7], xr: [-0.164, 5.054], yr: [0.1, 0.526], ys: 4, dec: 1, titleX: 495, lp: [480, 582] },
  { letter: 'H', box: [61.7, 799.3, 219.3, 948.3], xr: [-0.13, 5.05], yr: [0, 0.603], ys: 6, dec: 1, titleX: 33, lp: [3, 798] },
  { letter: 'I', box: [292.7, 797.7, 450, 948.3], xr: [-0.131, 5.03], yr: [0.157, 0.645], ys: 5, dec: 1, titleX: 263, lp: [261, 798] },
  { letter: 'J', box: [529, 798.3, 682.7, 948.3], xr: [-0.112, 5.09], yr: [0.249, 0.574], ys: 6, dec: 2, titleX: 496, lp: [483, 800] },
];

function buildOption() {
  const panelData = [
    { pts: ptsB, fit: fitB, low: lowB, up: upB, yt: yTicksB },
    { pts: ptsC, fit: fitC, low: lowC, up: upC, yt: yTicksC },
    { pts: ptsD, fit: fitD, low: lowD, up: upD, yt: yTicksD },
    { pts: ptsE, fit: fitE, low: lowE, up: upE, yt: yTicksE },
    { pts: ptsF, fit: fitF, low: lowF, up: upF, yt: yTicksF },
    { pts: ptsG, fit: fitG, low: lowG, up: upG, yt: yTicksG },
    { pts: ptsH, fit: fitH, low: lowH, up: upH, yt: yTicksH },
    { pts: ptsI, fit: fitI, low: lowI, up: upI, yt: yTicksI },
    { pts: ptsJ, fit: fitJ, low: lowJ, up: upJ, yt: yTicksJ },
  ];

  const absC = correlation.map((v) => Math.abs(v));
  const cMin = Math.min(...absC);
  const cMax = Math.max(...absC);
  const dotSize = (a: number) => Math.sqrt(36 + (289 - 36) * Math.max(0, (a - cMin)) / (cMax - cMin));

  const A = { l: 53.5, t: 6.7, r: 562, b: 266.5, c0: 65.5, c1: 549.3 };

  const grids: any[] = [
    { left: A.l, top: A.t, width: A.r - A.l, height: A.b - A.t },
    { left: A.c0, top: A.t, width: A.c1 - A.c0, height: A.b - A.t },
  ];
  const xAxes: any[] = [
    { gridIndex: 0, type: 'value', min: 0, max: 1, axisLine: { show: true, onZero: true, lineStyle: { color: '#6a6a6a', width: 0.9 } }, axisTick: { show: false }, axisLabel: { show: false }, splitLine: { show: false } },
    {
      gridIndex: 1, type: 'category', data: cells, boundaryGap: false,
      axisLine: { show: false, onZero: false },
      axisTick: { show: true, length: 3, lineStyle: { color: '#333', width: 1 } },
      axisLabel: { interval: 0, rotate: 45, fontSize: 9.6, color: '#333', margin: 4, fontFamily: FONT },
      splitLine: { show: true, lineStyle: { color: '#EBEBEB', width: 1 } },
    },
  ];
  const yAxes: any[] = [
    {
      gridIndex: 0, type: 'value', min: -0.4, max: 0.438, splitNumber: 4,
      axisLine: { show: false },
      axisTick: { show: true, length: 3, customValues: corrTicks, lineStyle: { color: '#333' } },
      axisLabel: { customValues: corrTicks, formatter: (v: number) => v.toFixed(1), fontSize: 9.5, color: '#333', margin: 5, fontFamily: FONT },
      splitLine: { show: true, lineStyle: { color: '#EBEBEB', width: 1 } },
      minorTick: { show: false, splitNumber: 2 },
      minorSplitLine: { show: true, lineStyle: { color: '#F3F3F3', width: 0.7 } },
    },
    { gridIndex: 1, type: 'value', min: -0.4, max: 0.438, show: false },
  ];
  const series: any[] = [
    {
      type: 'bar', xAxisIndex: 1, yAxisIndex: 1, data: correlation, barWidth: 1.1, silent: true,
      itemStyle: { color: '#111' }, z: 2,
    },
    {
      type: 'scatter', xAxisIndex: 1, yAxisIndex: 1, silent: true, z: 3,
      data: cells.map((c, i) => [i, correlation[i], pValue[i]]),
      symbolSize: (v: number[]) => dotSize(Math.abs(v[1])),
      itemStyle: { opacity: 1 },
    },
  ];

  const graphic: any[] = [];
  const txt = (x: number, y: number, text: string, size: number, extra: any = {}) => ({
    type: 'text', x, y, z: 100, silent: true, rotation: extra.rotation || 0,
    style: {
      text, fontSize: size, fontFamily: FONT, fill: extra.fill || '#1a1a1a',
      align: extra.align || 'left', textAlign: extra.align || 'left',
      verticalAlign: 'middle', textVerticalAlign: 'middle', rich: extra.rich,
    },
  });
  const border = (l: number, t: number, r: number, b: number, w: number) => ({
    type: 'rect', z: 99, silent: true, shape: { x: l, y: t, width: r - l, height: b - t },
    style: { fill: 'none', stroke: '#333', lineWidth: w },
  });

  graphic.push(txt(3, 9.5, 'A', 17, { fill: '#000' }));
  graphic.push(txt(14, (A.t + A.b) / 2, 'Correlation', 14, { rotation: Math.PI / 2, align: 'center', fill: '#000' }));
  graphic.push(border(A.l, A.t, A.r, A.b, 1.2));
  const pMaxLegend = 0.34;
  const cb = { x: 571, y: 66.7, w: 14, h: 61 };
  graphic.push(txt(571, 61, 'P value', 8.5));
  graphic.push({
    type: 'rect', z: 98, silent: true, shape: { x: cb.x, y: cb.y, width: cb.w, height: cb.h },
    style: { fill: new echarts.graphic.LinearGradient(0, 0, 0, 1, [{ offset: 0, color: BLUE }, { offset: 1, color: RED }]) },
  });
  pLegendTicks.forEach((p) => {
    const y = cb.y + cb.h - (p / pMaxLegend) * cb.h;
    graphic.push({ type: 'line', z: 99, silent: true, shape: { x1: cb.x, y1: y, x2: cb.x + 2.8, y2: y }, style: { stroke: '#fff', lineWidth: 0.8 } });
    graphic.push({ type: 'line', z: 99, silent: true, shape: { x1: cb.x + cb.w - 2.8, y1: y, x2: cb.x + cb.w, y2: y }, style: { stroke: '#fff', lineWidth: 0.8 } });
    graphic.push(txt(591, y, p.toFixed(1), 8));
  });
  graphic.push(txt(571, 145, 'Correlation', 8.5));
  const sizeY = [156.7, 170.3, 186];
  sizeLegendTicks.forEach((v, i) => {
    graphic.push({ type: 'circle', z: 99, silent: true, shape: { cx: 580, cy: sizeY[i], r: dotSize(v) / 2 }, style: { fill: 'none', stroke: '#000', lineWidth: 1.1 } });
    graphic.push(txt(593, sizeY[i], v.toFixed(1), 8));
  });

  panelLayout.forEach((L, k) => {
    const D = panelData[k];
    const gi = 2 + k;
    const [l, t, r, b] = L.box;
    grids.push({ left: l, top: t, width: r - l, height: b - t });
    xAxes.push({
      gridIndex: gi, type: 'value', min: L.xr[0], max: L.xr[1], splitNumber: 5,
      axisLine: { show: false },
      axisTick: { show: true, length: 3, customValues: exprTicks, lineStyle: { color: '#333' } },
      axisLabel: { customValues: exprTicks, formatter: (v: number) => String(v), fontSize: 9.5, color: '#333', margin: 6, fontFamily: FONT },
      splitLine: { show: true, lineStyle: { color: '#EBEBEB', width: 1 } },
      minorTick: { show: false, splitNumber: 2 },
      minorSplitLine: { show: true, lineStyle: { color: '#F3F3F3', width: 0.6 } },
    });
    yAxes.push({
      gridIndex: gi, type: 'value', min: L.yr[0], max: L.yr[1], splitNumber: L.ys,
      axisLine: { show: false },
      axisTick: { show: true, length: 3, customValues: D.yt, lineStyle: { color: '#333' } },
      axisLabel: { customValues: D.yt, formatter: (v: number) => v.toFixed(L.dec), fontSize: 9.5, color: '#333', margin: 4, fontFamily: FONT },
      splitLine: { show: true, lineStyle: { color: '#EBEBEB', width: 1 } },
      minorTick: { show: false, splitNumber: 2 },
      minorSplitLine: { show: true, lineStyle: { color: '#F3F3F3', width: 0.6 } },
    });
    series.push({
      type: 'scatter', xAxisIndex: gi, yAxisIndex: gi, data: D.pts, symbolSize: 5.4, silent: true, z: 2,
      itemStyle: { color: BLUE, opacity: 0.58 },
    });
    series.push({
      type: 'custom', xAxisIndex: gi, yAxisIndex: gi, silent: true, z: 3,
      data: fitX.map((x, i) => [x, D.fit[i]]),
      renderItem: (params: any, api: any) => {
        if (params.dataIndex !== 0) return null;
        const poly: number[][] = [];
        for (let i = 0; i < fitX.length; i++) poly.push(api.coord([fitX[i], D.up[i]]));
        for (let i = fitX.length - 1; i >= 0; i--) poly.push(api.coord([fitX[i], D.low[i]]));
        return { type: 'polygon', shape: { points: poly }, style: { fill: 'rgba(77,187,213,0.22)' } };
      },
    });
    series.push({
      type: 'line', xAxisIndex: gi, yAxisIndex: gi, silent: true, z: 4, symbol: 'none',
      data: fitX.map((x, i) => [x, D.fit[i]]),
      lineStyle: { color: BLUE, width: 1.1 },
    });

    graphic.push(border(l, t, r, b, 1.1));
    graphic.push(txt(L.lp[0], L.lp[1], L.letter, 17, { fill: '#000' }));
    graphic.push(txt(L.titleX, (t + b) / 2, 'Enrichment of ' + cellTitles[k], 10, { rotation: Math.PI / 2, align: 'center', fill: '#1a1a1a' }));
    const cx = (l + r) / 2;
    graphic.push(txt(cx, b + 21.5, 'The expression of IGF2BP3', 10, { align: 'center' }));
    graphic.push(txt(cx, b + 33, '{a|Log}{s|2}{a| (TPM+1)}', 10, {
      align: 'center',
      rich: {
        a: { fontSize: 10, fontFamily: FONT, fill: '#1a1a1a', color: '#1a1a1a', lineHeight: 14, verticalAlign: 'middle' },
        s: { fontSize: 7, fontFamily: FONT, fill: '#1a1a1a', color: '#1a1a1a', lineHeight: 14, verticalAlign: 'bottom' },
      },
    }));
    graphic.push(txt(r - 4, b - 30, 'Spearman', 8.3, { align: 'right', fill: BLUE }));
    graphic.push(txt(r - 4, b - 18.5, 'r = ' + spearmanR[k], 8.3, { align: 'right', fill: BLUE }));
    graphic.push(txt(r - 4, b - 7, spearmanP[k], 8.3, { align: 'right', fill: BLUE }));
  });

  return {
    animation: false,
    backgroundColor: '#ffffff',
    textStyle: { fontFamily: FONT },
    grid: grids,
    xAxis: xAxes,
    yAxis: yAxes,
    visualMap: [{
      type: 'continuous', show: false, seriesIndex: 1, dimension: 2, min: 0, max: pMaxLegend,
      inRange: { color: [RED, BLUE] },
    }],
    series,
    graphic,
  };
}

export default function App() {
  const ref = useRef<HTMLDivElement>(null);
  useEffect(() => {
    if (!ref.current) return;
    const chart = echarts.init(ref.current, null, { renderer: 'svg' });
    chart.setOption(buildOption() as any);
    return () => chart.dispose();
  }, []);
  return <div ref={ref} style={{ position: 'absolute', left: 0, top: 0, width: 685, height: 989, background: '#fff' }} />;
}
